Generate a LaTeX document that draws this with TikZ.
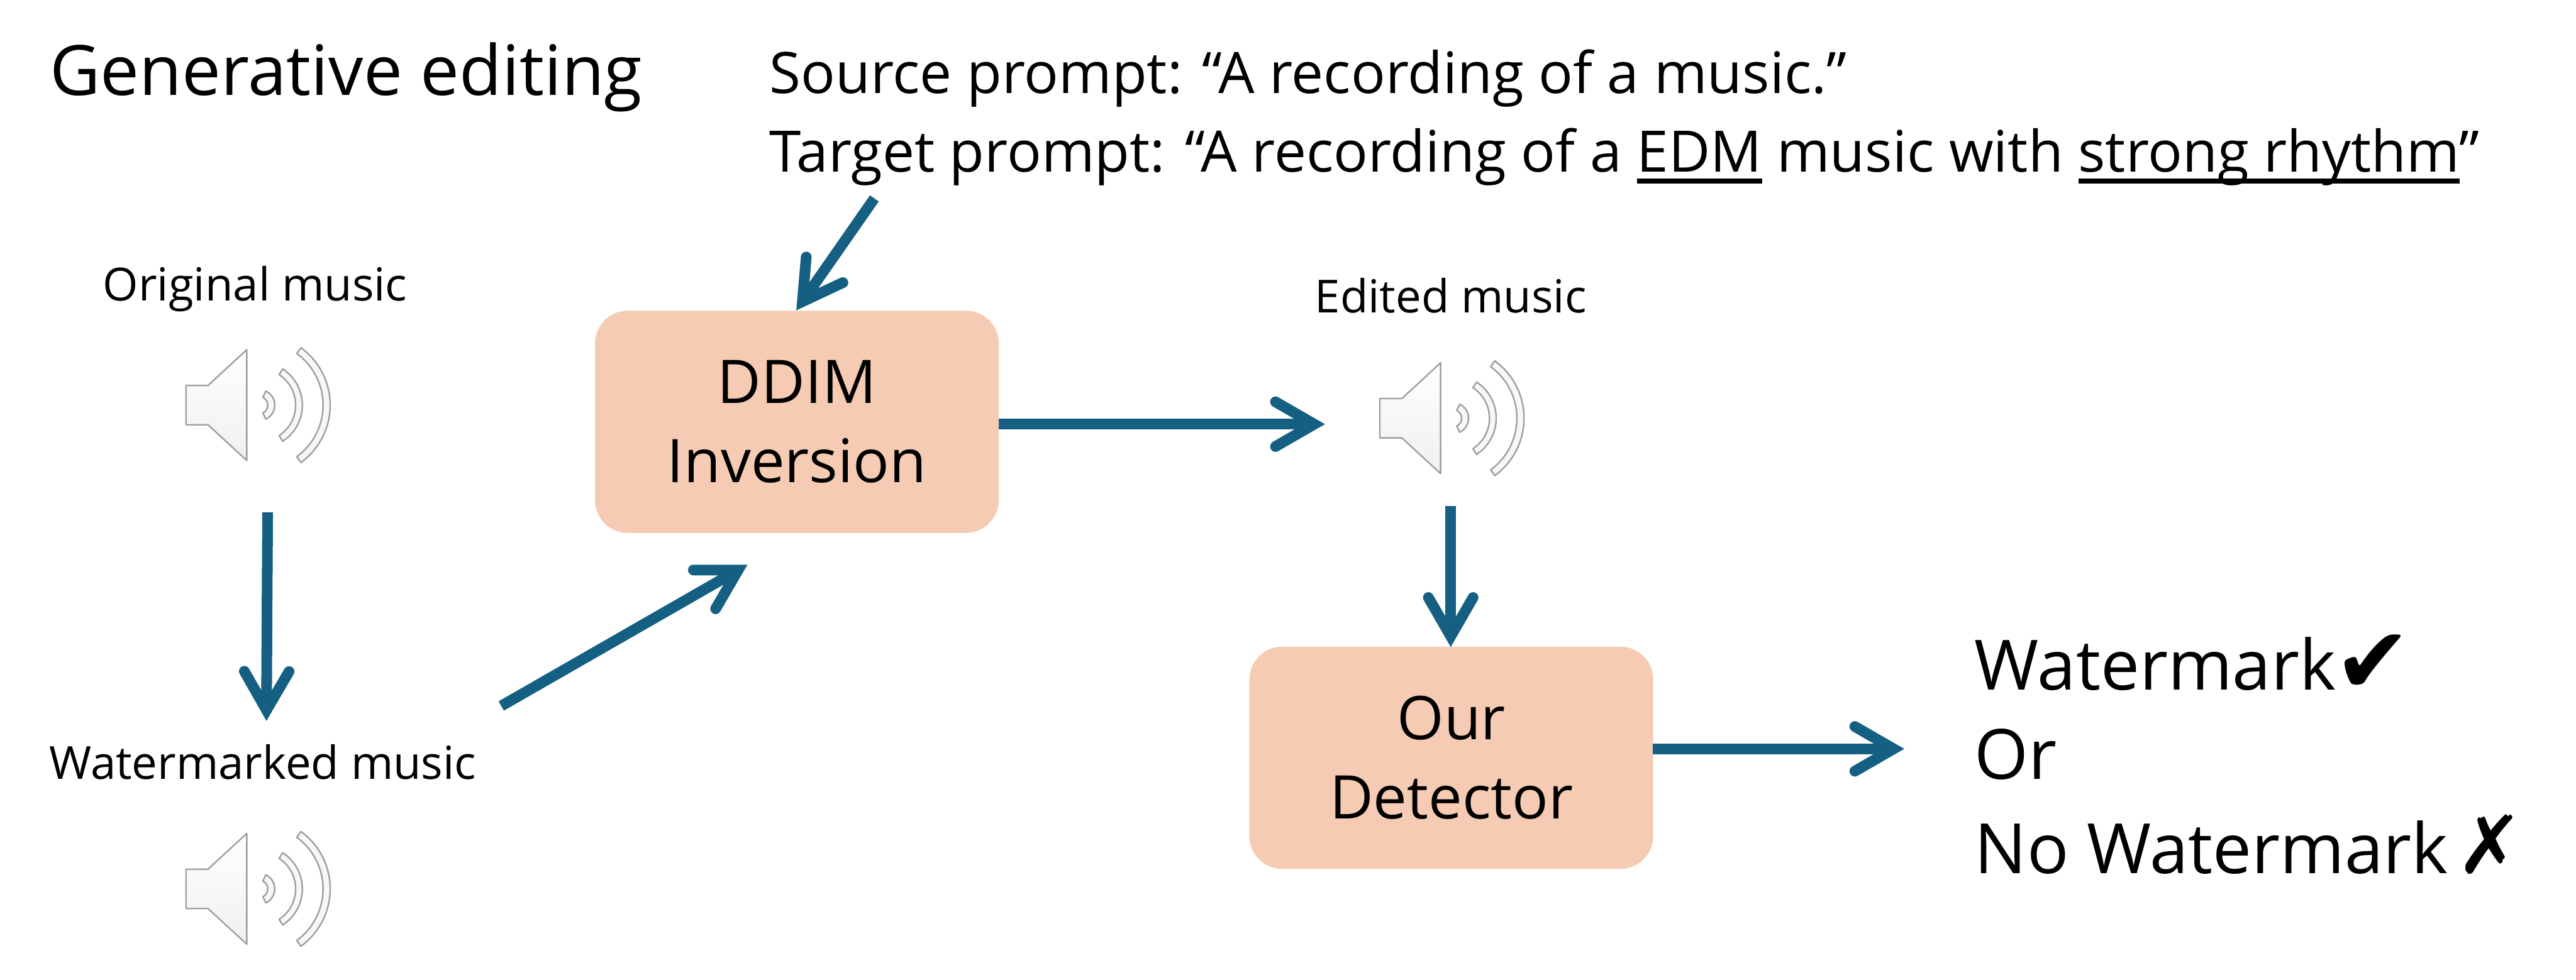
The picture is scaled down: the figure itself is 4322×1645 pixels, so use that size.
\documentclass[tikz,border=0pt]{standalone}
\usepackage{fontspec}
\setmainfont{Open Sans}
\newfontfamily\symfont{DejaVu Sans}
\usetikzlibrary{arrows.meta}
\definecolor{arrowblue}{HTML}{156082}
\definecolor{boxfill}{HTML}{F6CBB3}
\newsavebox{\ulinbox}
\newcommand{\ulin}[1]{\sbox{\ulinbox}{#1}\rlap{\rule[-3.8pt]{\wd\ulinbox}{1.6pt}}#1}
\tikzset{
  x=0.2pt,y=-0.2pt,
  flow/.style={arrowblue,line width=3.6pt,-{Straight Barb[length=13pt,width=15pt,line cap=round,line join=miter]}},
  procbox/.style={fill=boxfill,rounded corners=11pt,minimum width=135.5pt,minimum height=74.6pt,inner sep=0pt,font=\fontsize{20.2}{26.5}\selectfont,align=center,text=black},
  title/.style={font=\fontsize{23.3}{27}\selectfont,anchor=base west,inner sep=0pt},
  prompt/.style={font=\fontsize{19.2}{22}\selectfont,anchor=base west,inner sep=0pt},
  small/.style={font=\fontsize{15.3}{17}\selectfont,anchor=base,inner sep=0pt},
  result/.style={font=\fontsize{23.3}{27}\selectfont,anchor=base west,inner sep=0pt},
  speaker/.pic={
    \begin{scope}[draw=black!38,line width=0.5pt,top color=white,bottom color=black!6,line join=round]
      \path[draw,shade] (0,-33) -- (37,-33) -- (102,-93) -- (102,93) -- (37,33) -- (0,33) -- cycle;
      \path[draw,fill=black!3] (123,0) ++(65:14.3) arc[start angle=65,end angle=-65,radius=14.3] -- ++(-65:11.7) arc[start angle=-65,end angle=65,radius=26] -- cycle;
      \path[draw,fill=black!3] (123,0) ++(57:61) arc[start angle=57,end angle=-57,radius=61] -- ++(-57:11.3) arc[start angle=-57,end angle=57,radius=72.3] -- cycle;
      \path[draw,fill=black!3] (123,0) ++(54:107) arc[start angle=54,end angle=-54,radius=107] -- ++(-54:12) arc[start angle=-54,end angle=54,radius=119] -- cycle;
    \end{scope}
  }
}
\begin{document}
\begin{tikzpicture}
\useasboundingbox (0,0) rectangle (4322,1645);
\node[title] (gen) at (83,160) {Generative editing};
\node[prompt] (src) at (1290,157) {Source prompt: “A recording of a music.”};
\node[prompt] (tgt) at (1290,289) {Target prompt: “A recording of a \ulin{EDM} music with \ulin{strong rhythm}”};
\node[small] (orig) at (428,505) {Original music};
\node[small] (wm) at (441,1308) {Watermarked music};
\node[small] (edit) at (2434,525) {Edited music};
\node[procbox] (ddim) at (1337,708) {DDIM\\Inversion};
\node[procbox] (det) at (2435,1272) {Our\\Detector};
\pic at (312,680) {speaker};
\pic at (312,1492) {speaker};
\pic at (2315,702) {speaker};
\node[result] (r1) at (3312,1158) {Watermark\kern-0.5pt{\fontsize{31}{31}\symfont\raisebox{-1pt}{✔}}};
\node[result] (r2) at (3312,1308) {Or};
\node[result] (r3) at (3312,1466) {No Watermark \kern-3.4pt{\fontsize{27}{27}\symfont ✗}};
\coordinate (a1) at (449,860); \coordinate (a2) at (447,1210);
\coordinate (b1) at (841,1185); \coordinate (b2) at (1254,948);
\coordinate (c1) at (1467,333); \coordinate (c2) at (1336,521);
\coordinate (d1) at (1676,712); \coordinate (d2) at (2223,712);
\coordinate (e1) at (2434,849); \coordinate (e2) at (2434,1086);
\coordinate (f1) at (2773,1257); \coordinate (f2) at (3195,1257);
\draw[flow] (a1) -- (a2);
\draw[flow] (b1) -- (b2);
\draw[flow] (c1) -- (c2);
\draw[flow] (d1) -- (d2);
\draw[flow] (e1) -- (e2);
\draw[flow] (f1) -- (f2);
\end{tikzpicture}
\end{document}
